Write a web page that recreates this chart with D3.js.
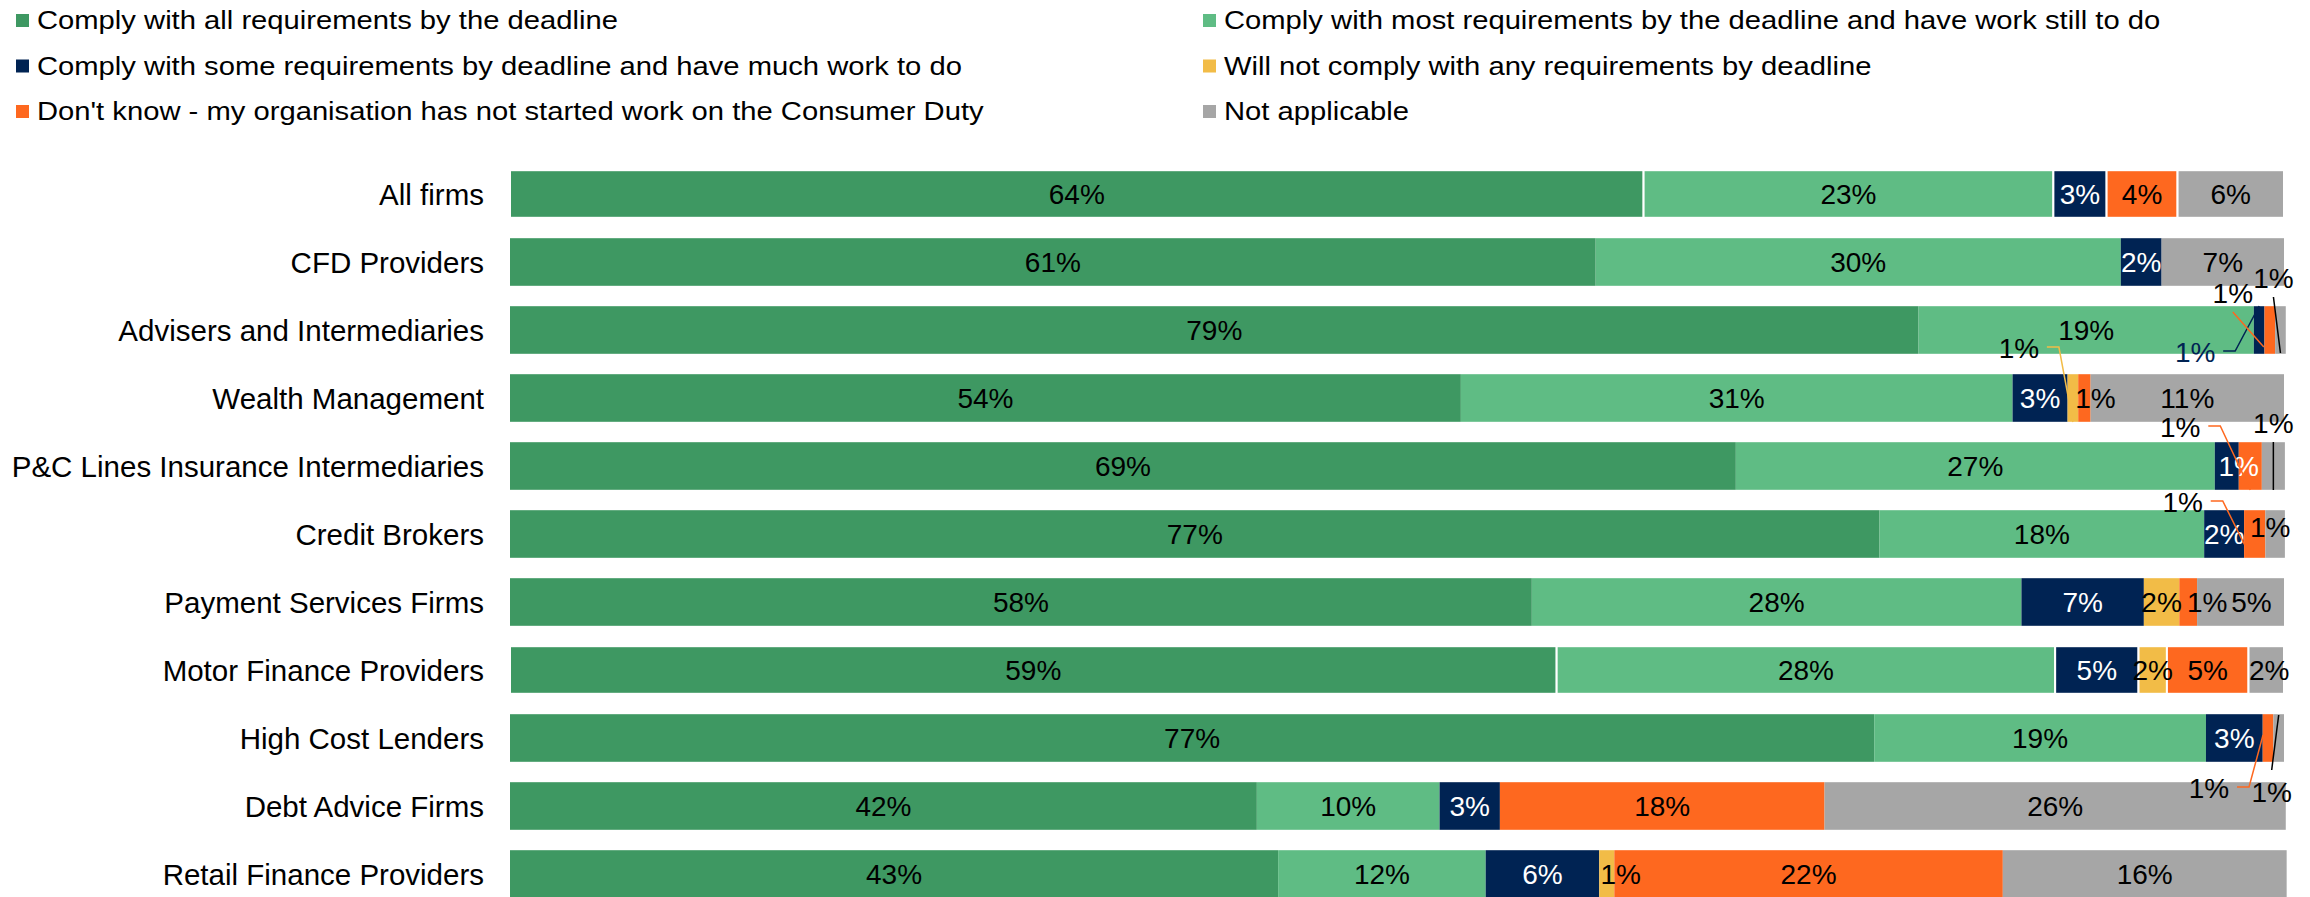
<!DOCTYPE html>
<html>
<head>
<meta charset="utf-8">
<script src="https://cdn.jsdelivr.net/npm/d3@7"></script>
<style>
  body { margin: 0; background: #fff; }
  text { font-family: "Liberation Sans", Arial, sans-serif; }
</style>
</head>
<body>
<div id="chart"></div>
<script>
// Firm types, top to bottom
let firmTypes = [
    "All firms",
    "CFD Providers",
    "Advisers and Intermediaries",
    "Wealth Management",
    "P&C Lines Insurance Intermediaries",
    "Credit Brokers",
    "Payment Services Firms",
    "Motor Finance Providers",
    "High Cost Lenders",
    "Debt Advice Firms",
    "Retail Finance Providers"
];

// Legend / series names
let seriesNames = [
    "Comply with all requirements by the deadline",
    "Comply with most requirements by the deadline and have work still to do",
    "Comply with some requirements by deadline and have much work to do",
    "Will not comply with any requirements by deadline",
    "Don't know - my organisation has not started work on the Consumer Duty",
    "Not applicable"
];

// Values (%), one array per series
let complyAll     = [63.9, 61.2, 79.4, 53.6, 69.1, 77.2, 57.6, 59.0, 76.9, 42.1, 43.3];
let complyMost    = [23.1, 29.6, 18.9, 31.1, 27.0, 18.3, 27.6, 28.1, 18.7, 10.3, 11.7];
let complySome    = [3.0, 2.3, 0.6, 3.1, 1.35, 2.25, 6.9, 4.7, 3.2, 3.4, 6.4];
let willNot       = [0, 0, 0, 0.6, 0, 0, 2.0, 1.6, 0, 0, 0.85];
let dontKnow      = [4.0, 0, 0.6, 0.7, 1.3, 1.2, 1.0, 4.6, 0.6, 18.3, 21.9];
let notApplicable = [6.0, 6.9, 0.6, 10.9, 1.3, 1.1, 4.9, 2.0, 0.6, 26.0, 16.0];

let keys = ["complyAll", "complyMost", "complySome", "willNot", "dontKnow", "notApplicable"];
let seriesColors = ["#3e9862", "#5fbc84", "#002353", "#f2bc47", "#fe681f", "#a6a6a6"];
let labelColors  = ["#000", "#000", "#fff", "#000", "#000", "#000"];

// rows drawn with a white outline round each segment
let outlinedRows = ["All firms", "Motor Finance Providers"];

// small labels pulled out of the bar with a leader line
let callouts = [
    { firm: "Advisers and Intermediaries", key: "complySome", dx: -64, dy: 22, kind: "elbow", ex: 0, ey: -24, textColor: "#002353" },
    { firm: "Advisers and Intermediaries", key: "dontKnow", dx: -37, dy: -37, kind: "straight", ex: -6, ey: 17 },
    { firm: "Advisers and Intermediaries", key: "notApplicable", dx: -7, dy: -52, kind: "straight", ex: 0, ey: 23 },
    { firm: "Wealth Management", key: "willNot", dx: -54, dy: -50, kind: "elbow", ex: 0, ey: 24 },
    { firm: "P&C Lines Insurance Intermediaries", key: "dontKnow", dx: -70, dy: -39, kind: "elbow", ex: 0, ey: 24 },
    { firm: "P&C Lines Insurance Intermediaries", key: "notApplicable", dx: 0, dy: -43, kind: "straight", ex: 0, ey: 24 },
    { firm: "Credit Brokers", key: "dontKnow", dx: -72, dy: -32, kind: "elbow", ex: -10, ey: 11 },
    { firm: "High Cost Lenders", key: "dontKnow", dx: -59, dy: 50, kind: "elbow", ex: -5, ey: -3 },
    { firm: "High Cost Lenders", key: "notApplicable", dx: -7, dy: 54, kind: "straight", ex: 0, ey: -23 }
];

// in-bar labels nudged off the segment centre
let labelNudges = [
    { firm: "Wealth Management", key: "dontKnow", dx: 11, dy: 0 },
    { firm: "P&C Lines Insurance Intermediaries", key: "complySome", dx: 12, dy: 0 },
    { firm: "Credit Brokers", key: "notApplicable", dx: -5, dy: -7 },
    { firm: "Payment Services Firms", key: "dontKnow", dx: 19, dy: 0 },
    { firm: "Payment Services Firms", key: "notApplicable", dx: 11, dy: 0 },
    { firm: "Motor Finance Providers", key: "notApplicable", dx: 3, dy: 0 },
    { firm: "Retail Finance Providers", key: "willNot", dx: 14, dy: 0 }
];

let svgWidth = 2310;
let svgHeight = 897;

let svg = d3.select("#chart")
    .append("svg")
    .attr("width", svgWidth)
    .attr("height", svgHeight);

// table for the stack
let seriesData = [complyAll, complyMost, complySome, willNot, dontKnow, notApplicable];
let table = firmTypes.map(function(f, i) {
    let row = { firm: f };
    keys.forEach((k, j) => row[k] = seriesData[j][i]);
    return row;
});

let stacked = d3.stack().keys(keys)(table);

let xScale = d3.scaleLinear()
    .domain([0, 100])
    .range([510, 2284]);

let yScale = d3.scaleBand()
    .domain(firmTypes)
    .range([160, 908])
    .paddingInner(0.3)
    .paddingOuter(0.15);

let colorOf = d3.scaleOrdinal().domain(keys).range(seriesColors);
let labelColorOf = d3.scaleOrdinal().domain(keys).range(labelColors);

// Bars
let layers = svg.append("g").selectAll("g")
    .data(stacked)
    .enter()
    .append("g")
    .attr("fill", d => colorOf(d.key));

layers.selectAll("rect")
    .data(d => d.map(p => Object.assign(p, { key: d.key })))
    .enter()
    .append("rect")
    .filter(d => d[1] - d[0] > 0)
    .attr("x", d => xScale(d[0]))
    .attr("y", d => yScale(d.data.firm))
    .attr("width", d => xScale(d[1]) - xScale(d[0]))
    .attr("height", yScale.bandwidth())
    .attr("stroke", d => outlinedRows.includes(d.data.firm) ? "#fff" : "none")
    .attr("stroke-width", 2);

// Data labels
let labelGroup = svg.append("g")
    .attr("font-size", "28px")
    .attr("text-anchor", "middle");

let isCallout = (firm, key) => callouts.some(c => c.firm === firm && c.key === key);

stacked.forEach(function(layer) {
    layer.forEach(function(d) {
        let v = d[1] - d[0];
        if (v <= 0 || isCallout(d.data.firm, layer.key)) return;
        let nudge = labelNudges.find(n => n.firm === d.data.firm && n.key === layer.key) || { dx: 0, dy: 0 };
        labelGroup.append("text")
            .attr("x", xScale((d[0] + d[1]) / 2) + nudge.dx)
            .attr("y", yScale(d.data.firm) + yScale.bandwidth() / 2 + nudge.dy)
            .attr("dy", "0.36em")
            .attr("fill", labelColorOf(layer.key))
            .text(Math.round(v) + "%");
    });
});

// Callout labels with leader lines
callouts.forEach(function(c) {
    let layer = stacked.find(s => s.key === c.key);
    let d = layer[firmTypes.indexOf(c.firm)];
    let cx = xScale((d[0] + d[1]) / 2);
    let cy = yScale(c.firm) + yScale.bandwidth() / 2;
    let lx = cx + c.dx;
    let ly = cy + c.dy;
    let pts;
    if (c.kind === "elbow") {
        pts = [[lx + 28, ly - 1], [lx + 40, ly - 1], [cx + c.ex, cy + c.ey]];
    } else {
        pts = [[lx, ly + (c.dy < 0 ? 19 : -22)], [cx + c.ex, cy + c.ey]];
    }
    let lineColor = c.key === "notApplicable" ? "#000" : colorOf(c.key);
    svg.append("path")
        .attr("d", d3.line()(pts))
        .attr("fill", "none")
        .attr("stroke", lineColor)
        .attr("stroke-width", 1.5);
    labelGroup.append("text")
        .attr("x", lx)
        .attr("y", ly)
        .attr("dy", "0.36em")
        .attr("fill", c.textColor || "#000")
        .text(Math.round(d[1] - d[0]) + "%");
});

// Category axis
let yAxis = svg.append("g")
    .attr("transform", "translate(510,0)")
    .call(d3.axisLeft(yScale).tickSize(0).tickPadding(26));

yAxis.select(".domain").remove();
yAxis.selectAll("text")
    .attr("font-family", "Liberation Sans, Arial, sans-serif")
    .attr("font-size", "29.5px")
    .attr("fill", "#000")
    .attr("dy", "0.36em");

// Legend: two columns, three rows
let legendStretch = 1.145;
let legend = svg.append("g").selectAll("g")
    .data(seriesNames)
    .enter()
    .append("g")
    .attr("transform", (d, i) => `translate(${i % 2 === 0 ? 16 : 1203}, ${14 + Math.floor(i / 2) * 45.5})`);

legend.append("rect")
    .attr("width", 13)
    .attr("height", 13)
    .attr("fill", (d, i) => seriesColors[i]);

legend.append("text")
    .attr("x", 21 / legendStretch)
    .attr("y", 15)
    .attr("font-size", "25.5px")
    .attr("fill", "#000")
    .attr("transform", `scale(${legendStretch},1)`)
    .text(d => d);
</script>
</body>
</html>
